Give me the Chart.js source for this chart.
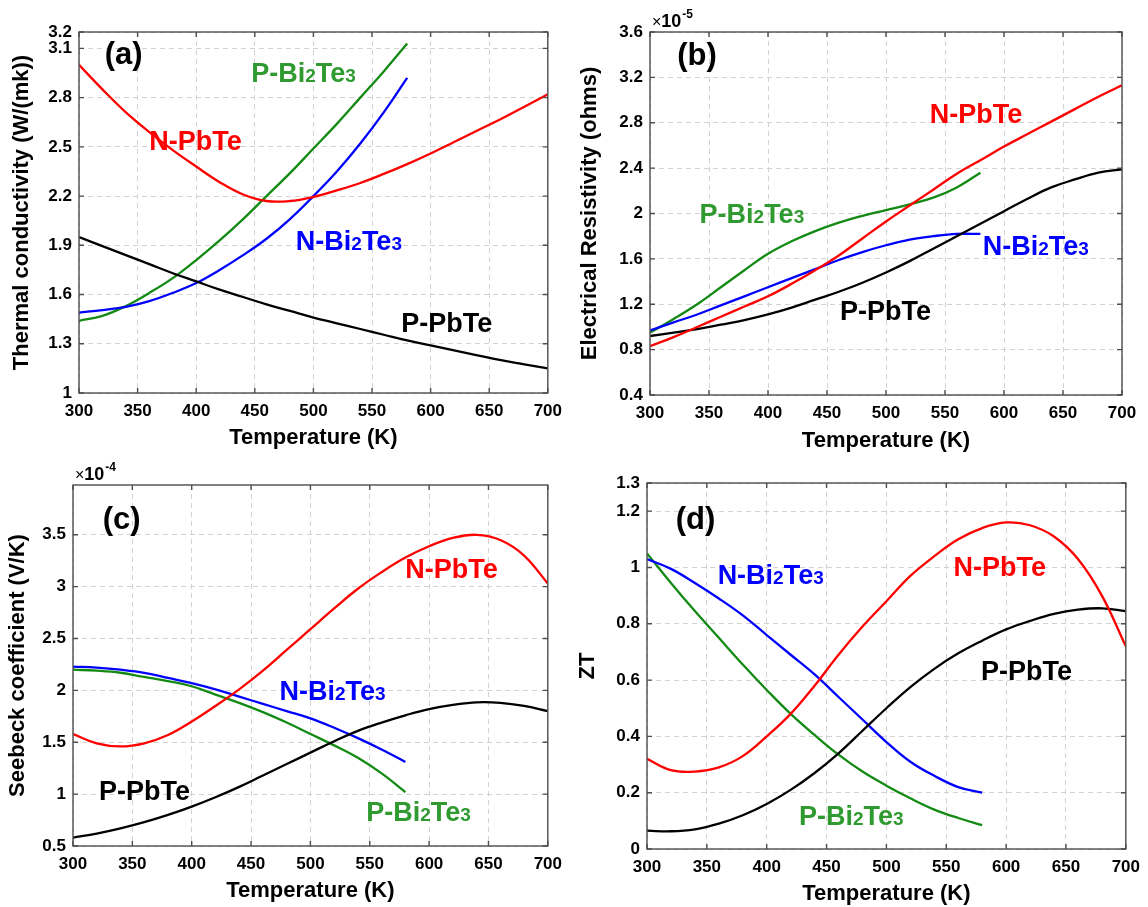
<!DOCTYPE html>
<html>
<head>
<meta charset="utf-8">
<title>Thermoelectric properties vs temperature</title>
<script src="https://cdn.jsdelivr.net/npm/chart.js@4.4.1/dist/chart.umd.min.js"></script>
<style>
  html, body { margin: 0; padding: 0; background: #fff; }
  body { width: 1148px; height: 907px; position: relative; overflow: hidden; }
  canvas { position: absolute; }
</style>
</head>
<body>
<canvas id="chartA" width="561" height="451" style="left:9px;top:0px"></canvas>
<canvas id="chartB" width="571" height="454" style="left:577px;top:0px"></canvas>
<canvas id="chartC" width="565" height="449" style="left:5px;top:455px"></canvas>
<canvas id="chartD" width="573" height="452" style="left:575px;top:455px"></canvas>
<script>
// temperatures (K)
const temps = [300, 320, 340, 360, 380, 400, 420, 440, 460, 480, 500,
               520, 540, 560, 580, 600, 620, 640, 660, 680, 700];
const tempsBi = [300, 320, 340, 360, 380, 400, 420, 440, 460, 480, 500,
                 520, 540, 560, 580];
const tempTicks = [300, 350, 400, 450, 500, 550, 600, 650, 700];

// (a) thermal conductivity, W/(mK)
const kNPbTe = [3.00, 2.85, 2.71, 2.59, 2.48, 2.38, 2.285, 2.21, 2.17, 2.17, 2.195,
                2.235, 2.28, 2.335, 2.395, 2.46, 2.53, 2.60, 2.67, 2.745, 2.82];
const kPPbTe = [1.95, 1.895, 1.84, 1.785, 1.73, 1.68, 1.63, 1.585, 1.54, 1.50, 1.46,
                1.425, 1.39, 1.355, 1.32, 1.29, 1.26, 1.23, 1.20, 1.175, 1.15];
const kNBi = [1.49, 1.505, 1.525, 1.56, 1.61, 1.67, 1.75, 1.84, 1.94, 2.06, 2.20,
              2.35, 2.52, 2.71, 2.92];
const kPBi = [1.44, 1.47, 1.53, 1.61, 1.70, 1.81, 1.93, 2.06, 2.20, 2.34, 2.49,
              2.64, 2.80, 2.96, 3.13];
const kTicks = [1, 1.3, 1.6, 1.9, 2.2, 2.5, 2.8, 3.1, 3.2];

// (b) electrical resistivity, x1e-5 ohm
const rhoNPbTe = [0.83, 0.91, 1.00, 1.09, 1.18, 1.27, 1.38, 1.50, 1.63, 1.78, 1.93,
                  2.07, 2.21, 2.35, 2.47, 2.59, 2.70, 2.81, 2.92, 3.03, 3.13];
const rhoPPbTe = [0.92, 0.95, 0.98, 1.02, 1.06, 1.11, 1.17, 1.24, 1.31, 1.39, 1.48,
                  1.58, 1.69, 1.80, 1.91, 2.02, 2.13, 2.23, 2.30, 2.36, 2.39];
const rhoNBi = [0.97, 1.04, 1.11, 1.19, 1.27, 1.35, 1.43, 1.51, 1.59, 1.66, 1.72,
                1.77, 1.80, 1.82, 1.82];
const rhoPBi = [0.95, 1.07, 1.20, 1.35, 1.50, 1.645, 1.755, 1.845, 1.92, 1.98, 2.03,
                2.08, 2.14, 2.23, 2.36];
const rhoTicks = [0.4, 0.8, 1.2, 1.6, 2, 2.4, 2.8, 3.2, 3.6];

// (c) Seebeck coefficient, x1e-4 V/K
const sNPbTe = [1.58, 1.49, 1.46, 1.49, 1.57, 1.70, 1.85, 2.01, 2.19, 2.39, 2.59,
                2.79, 2.98, 3.14, 3.28, 3.39, 3.47, 3.50, 3.45, 3.30, 3.03];
const sPPbTe = [0.58, 0.62, 0.67, 0.73, 0.80, 0.88, 0.97, 1.07, 1.18, 1.29, 1.40,
                1.51, 1.61, 1.69, 1.76, 1.82, 1.86, 1.885, 1.88, 1.85, 1.80];
const sNBi = [2.23, 2.22, 2.20, 2.17, 2.12, 2.07, 2.01, 1.94, 1.87, 1.80, 1.73,
              1.64, 1.54, 1.43, 1.31];
const sPBi = [2.20, 2.19, 2.17, 2.13, 2.09, 2.04, 1.96, 1.88, 1.79, 1.69, 1.58,
              1.47, 1.35, 1.20, 1.02];
const sTicks = [0.5, 1, 1.5, 2, 2.5, 3, 3.5];

// (d) figure of merit ZT
const ztNPbTe = [0.32, 0.28, 0.275, 0.29, 0.33, 0.40, 0.48, 0.58, 0.69, 0.79, 0.88,
                 0.97, 1.04, 1.10, 1.14, 1.16, 1.15, 1.11, 1.03, 0.90, 0.72];
const ztPPbTe = [0.065, 0.063, 0.07, 0.09, 0.12, 0.16, 0.21, 0.27, 0.34, 0.42, 0.50,
                 0.575, 0.64, 0.695, 0.74, 0.78, 0.81, 0.835, 0.85, 0.855, 0.845];
const ztNBi = [1.03, 0.995, 0.945, 0.89, 0.83, 0.76, 0.69, 0.62, 0.54, 0.46, 0.38,
               0.31, 0.26, 0.22, 0.20];
const ztPBi = [1.05, 0.945, 0.845, 0.75, 0.655, 0.565, 0.48, 0.405, 0.335, 0.275, 0.225,
               0.18, 0.14, 0.11, 0.085];
const ztTicks = [0, 0.2, 0.4, 0.6, 0.8, 1, 1.2, 1.3];

const FONT = '"Liberation Sans", Arial, sans-serif';
const RED = "#ff0000", BLUE = "#0000ff", GREEN = "#138a13", BLACK = "#000000";
const GREEN_TXT = "#2f9a2f";

function pts(xs, ys) {
  return ys.map((y, i) => ({ x: xs[i], y: y }));
}

// draws "P-Bi2Te3" style text with small digits after letters
function drawChem(ctx, text, x, y, size) {
  let cx = x;
  const runs = [];
  for (let i = 0; i < text.length; i++) {
    const sub = /[0-9]/.test(text[i]) && i > 0 && /[A-Za-z]/.test(text[i - 1]);
    if (runs.length && runs[runs.length - 1].sub === sub) runs[runs.length - 1].t += text[i];
    else runs.push({ t: text[i], sub: sub });
  }
  runs.forEach((r) => {
    ctx.font = "bold " + (r.sub ? Math.round(size * 0.72) : size) + "px " + FONT;
    ctx.fillText(r.t, cx, y);
    cx += ctx.measureText(r.t).width;
  });
}

function makePanel(id, cfg) {
  const deco = {
    id: "deco",
    afterDatasetsDraw(chart) {
      const ctx = chart.ctx;
      const a = chart.chartArea;
      const xs = chart.scales.x, ys = chart.scales.y;
      ctx.save();
      // box and inward ticks
      ctx.strokeStyle = "#4d4d4d";
      ctx.lineWidth = 1.4;
      ctx.strokeRect(a.left, a.top, a.right - a.left, a.bottom - a.top);
      ctx.beginPath();
      tempTicks.forEach((t) => {
        const px = xs.getPixelForValue(t);
        ctx.moveTo(px, a.bottom); ctx.lineTo(px, a.bottom - 5);
        ctx.moveTo(px, a.top); ctx.lineTo(px, a.top + 5);
      });
      cfg.yTicks.forEach((v) => {
        const py = ys.getPixelForValue(v);
        ctx.moveTo(a.left, py); ctx.lineTo(a.left + 5, py);
        ctx.moveTo(a.right, py); ctx.lineTo(a.right - 5, py);
      });
      ctx.stroke();
      // labels
      ctx.textBaseline = "alphabetic";
      ctx.textAlign = "left";
      cfg.notes.forEach((n) => {
        ctx.fillStyle = n.color;
        const size = n.size || 27;
        drawChem(ctx, n.text, xs.getPixelForValue(n.x),
                 ys.getPixelForValue(n.y) + size * 0.36, size);
      });
      // exponent
      if (cfg.exponent) {
        const bx = a.left + 2, by = a.top - 5;
        ctx.fillStyle = "#000";
        ctx.font = "16px " + FONT;
        ctx.fillText("\u00d7", bx, by);
        let w = ctx.measureText("\u00d7").width;
        ctx.font = "bold 18px " + FONT;
        ctx.fillText("10", bx + w, by);
        w += ctx.measureText("10").width;
        ctx.font = "bold 12px " + FONT;
        ctx.fillText(cfg.exponent, bx + w + 1, by - 9);
      }
      ctx.restore();
    },
  };

  const series = [
    { xs: temps, ys: cfg.nPbTe, color: RED },
    { xs: temps, ys: cfg.pPbTe, color: BLACK },
    { xs: tempsBi, ys: cfg.nBi, color: BLUE },
    { xs: tempsBi, ys: cfg.pBi, color: GREEN },
  ];

  new Chart(document.getElementById(id), {
    type: "line",
    data: {
      datasets: series.map((s) => ({
        data: pts(s.xs, s.ys),
        borderColor: s.color,
        borderWidth: 2.3,
        pointRadius: 0,
        fill: false,
        tension: 0.4,
      })),
    },
    options: {
      responsive: false,
      animation: false,
      layout: { padding: { top: cfg.padTop, right: cfg.padRight, left: 0, bottom: 0 } },
      plugins: { legend: { display: false }, tooltip: { enabled: false } },
      scales: {
        x: {
          type: "linear",
          min: 300,
          max: 700,
          afterBuildTicks: (s) => { s.ticks = tempTicks.map((v) => ({ value: v })); },
          afterFit: (s) => { s.height = cfg.xHeight; },
          grid: { color: "#d2d2d2", lineWidth: 1, drawTicks: false },
          border: { display: false, dash: [5, 4] },
          ticks: {
            color: "#000",
            padding: 8,
            maxRotation: 0,
            font: { family: FONT, size: 17, weight: "bold" },
          },
          title: {
            display: true,
            text: "Temperature (K)",
            color: "#000",
            padding: 0,
            font: { family: FONT, size: 22, weight: "bold" },
          },
        },
        y: {
          type: "linear",
          min: cfg.yMin,
          max: cfg.yMax,
          afterBuildTicks: (s) => { s.ticks = cfg.yTicks.map((v) => ({ value: v })); },
          afterFit: (s) => { s.width = cfg.yWidth; },
          grid: { color: "#d2d2d2", lineWidth: 1, drawTicks: false },
          border: { display: false, dash: [5, 4] },
          ticks: {
            color: "#000",
            padding: 7,
            font: { family: FONT, size: 17, weight: "bold" },
            callback: (v) => String(+Number(v).toFixed(2)),
          },
          title: {
            display: true,
            text: cfg.yTitle,
            color: "#000",
            padding: 0,
            font: { family: FONT, size: 22, weight: "bold" },
          },
        },
      },
    },
    plugins: [deco],
  });
}

makePanel("chartA", {
  nPbTe: kNPbTe, pPbTe: kPPbTe, nBi: kNBi, pBi: kPBi,
  yMin: 1, yMax: 3.2, yTicks: kTicks,
  yTitle: "Thermal conductivity (W/(mk))",
  yWidth: 70, xHeight: 58, padTop: 32, padRight: 17,
  notes: [
    { text: "(a)", x: 322, y: 3.07, color: BLACK, size: 31 },
    { text: "P-Bi2Te3", x: 447, y: 2.955, color: GREEN_TXT },
    { text: "N-PbTe", x: 360, y: 2.54, color: RED },
    { text: "N-Bi2Te3", x: 485, y: 1.93, color: BLUE },
    { text: "P-PbTe", x: 575, y: 1.43, color: BLACK },
  ],
});

makePanel("chartB", {
  nPbTe: rhoNPbTe, pPbTe: rhoPPbTe, nBi: rhoNBi, pBi: rhoPBi,
  yMin: 0.4, yMax: 3.6, yTicks: rhoTicks,
  yTitle: "Electrical Resistivity (ohms)",
  yWidth: 73, xHeight: 59, padTop: 32, padRight: 26,
  exponent: "-5",
  notes: [
    { text: "(b)", x: 323, y: 3.41, color: BLACK, size: 31 },
    { text: "N-PbTe", x: 537, y: 2.886, color: RED },
    { text: "P-Bi2Te3", x: 342, y: 2.0, color: GREEN_TXT },
    { text: "N-Bi2Te3", x: 582, y: 1.72, color: BLUE },
    { text: "P-PbTe", x: 461, y: 1.15, color: BLACK },
  ],
});

makePanel("chartC", {
  nPbTe: sNPbTe, pPbTe: sPPbTe, nBi: sNBi, pBi: sPBi,
  yMin: 0.5, yMax: 3.98, yTicks: sTicks,
  yTitle: "Seebeck coefficient (V/K)",
  yWidth: 68, xHeight: 58, padTop: 30, padRight: 17,
  exponent: "-4",
  notes: [
    { text: "(c)", x: 325, y: 3.66, color: BLACK, size: 31 },
    { text: "N-PbTe", x: 580, y: 3.18, color: RED },
    { text: "N-Bi2Te3", x: 474, y: 2.0, color: BLUE },
    { text: "P-PbTe", x: 322, y: 1.04, color: BLACK },
    { text: "P-Bi2Te3", x: 547, y: 0.83, color: GREEN_TXT },
  ],
});

makePanel("chartD", {
  nPbTe: ztNPbTe, pPbTe: ztPPbTe, nBi: ztNBi, pBi: ztPBi,
  yMin: 0, yMax: 1.3, yTicks: ztTicks,
  yTitle: "ZT",
  yWidth: 72, xHeight: 58, padTop: 28, padRight: 20,
  notes: [
    { text: "(d)", x: 324, y: 1.175, color: BLACK, size: 31 },
    { text: "N-Bi2Te3", x: 359, y: 0.977, color: BLUE },
    { text: "N-PbTe", x: 556, y: 1.005, color: RED },
    { text: "P-PbTe", x: 579, y: 0.636, color: BLACK },
    { text: "P-Bi2Te3", x: 427, y: 0.12, color: GREEN_TXT },
  ],
});
</script>
</body>
</html>
